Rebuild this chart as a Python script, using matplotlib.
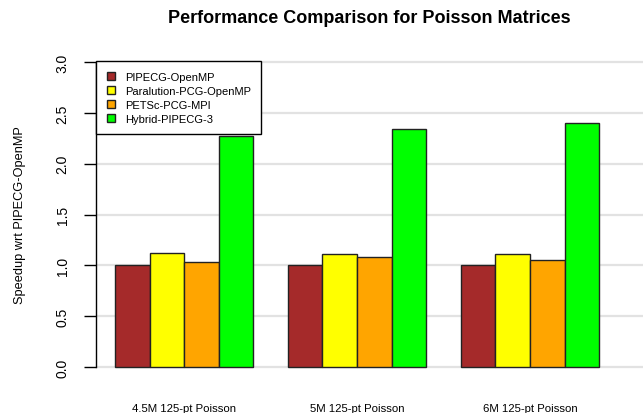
import numpy as np
import matplotlib.pyplot as plt

plt.rcParams['font.family'] = ['Liberation Sans', 'DejaVu Sans']

groups = ["4.5M 125-pt Poisson", "5M 125-pt Poisson", "6M 125-pt Poisson"]
methods = ["PIPECG-OpenMP", "Paralution-PCG-OpenMP", "PETSc-PCG-MPI", "Hybrid-PIPECG-3"]
colors = ["#A52A2A", "#FFFF00", "#FFA500", "#00FF00"]

pipecg = [1.0, 1.0, 1.0]
paralution = [1.12, 1.11, 1.11]
petsc = [1.03, 1.08, 1.05]
hybrid = [2.27, 2.34, 2.40]
speedups = [pipecg, paralution, petsc, hybrid]

yticks = [0.0, 0.5, 1.0, 1.5, 2.0, 2.5, 3.0]

fig = plt.figure(figsize=(6.43, 4.14), dpi=100)
ax = fig.add_axes([96 / 643, 0.0816, 547 / 643, 0.7957])

# R-style barplot layout: bars of width 1, one bar of space between groups
n = len(methods)
starts = np.arange(len(groups)) * (n + 1) + 1
for i in range(n):
    ax.bar(starts + i + 0.5, speedups[i], width=1.0, color=colors[i],
           edgecolor="#222222", linewidth=1.0, label=methods[i], zorder=3)

for t in yticks:
    ax.axhline(t, color="#e2e2e2", linewidth=1.6, zorder=1)

ax.set_xlim(0.45, 16.27)
ax.set_ylim(-0.12, 3.12)

for s in ["top", "right", "bottom"]:
    ax.spines[s].set_visible(False)
ax.spines["left"].set_bounds(0, 3)
ax.spines["left"].set_linewidth(1.0)

ax.set_yticks(yticks)
ax.set_yticklabels(["%.1f" % t for t in yticks], rotation=90, va="center", fontsize=10)
ax.tick_params(axis="y", direction="out", length=9, width=1.0, pad=10)

ax.set_xticks(starts + n / 2)
ax.set_xticklabels(groups, fontsize=8.2)
ax.tick_params(axis="x", length=0, pad=17)

ax.set_ylabel("Speedup wrt PIPECG-OpenMP", fontsize=9.2, labelpad=21)
ax.set_title("Performance Comparison for Poisson Matrices", fontsize=13,
             fontweight="bold", pad=20)

leg = ax.legend(loc="upper left", bbox_to_anchor=(0.0, 0.965), fontsize=8,
                handlelength=0.8, handleheight=0.8, labelspacing=0.34,
                fancybox=False, edgecolor="black", framealpha=1,
                borderpad=0.95, handletextpad=0.85, borderaxespad=0)
leg.get_frame().set_linewidth(1.0)
leg.set_zorder(5)

fig.savefig("out.png", dpi=100)
